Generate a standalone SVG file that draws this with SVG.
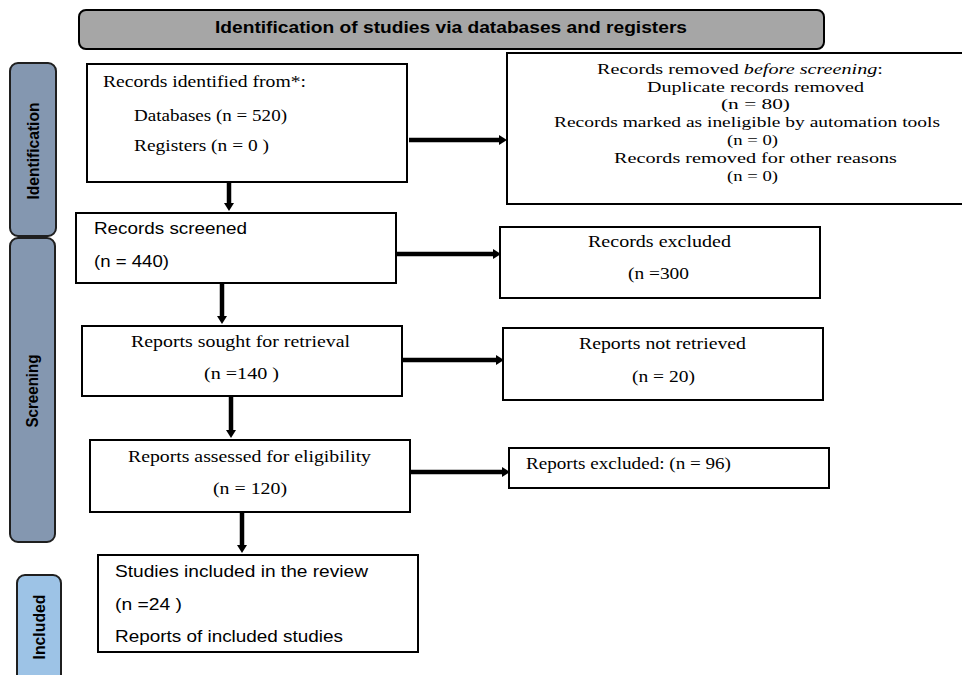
<svg xmlns="http://www.w3.org/2000/svg" width="962" height="675" viewBox="0 0 962 675">
<defs>
<style>
.box{fill:#fff;stroke:#000;stroke-width:2}
.side{stroke:#1f1f1f;stroke-width:2}
.ser{font-family:"Liberation Serif","Times New Roman",serif;font-size:17px;fill:#000}
.sm{font-size:15.5px}
.san{font-family:"Liberation Sans",Arial,sans-serif;font-size:17px;fill:#000}
.lab{font-family:"Liberation Sans",Arial,sans-serif;font-size:16px;font-weight:bold;fill:#000}
.conn line{stroke:#000;stroke-width:4.5;marker-end:url(#ah)}
</style>
<marker id="ah" markerUnits="userSpaceOnUse" markerWidth="8" markerHeight="10" refX="0" refY="5" orient="auto">
<path d="M0,0 L8,5 L0,10 z" fill="#000"/>
</marker>
</defs>
<rect width="962" height="675" fill="#fff"/>

<g id="title">
<rect x="79" y="10" width="745" height="39" rx="7" fill="#a6a6a6" stroke="#000" stroke-width="2"/>
<text x="215" y="33" class="lab" textLength="472" lengthAdjust="spacingAndGlyphs">Identification of studies via databases and registers</text>
</g>

<g id="phase-identification">
<rect x="10" y="63" width="46" height="173" rx="8" fill="#8497b0" class="side"/>
<text class="lab" transform="translate(39,151) rotate(-90)" text-anchor="middle" textLength="97" lengthAdjust="spacingAndGlyphs">Identification</text>
</g>
<g id="phase-screening">
<rect x="10" y="238" width="45" height="304" rx="8" fill="#8497b0" class="side"/>
<text class="lab" transform="translate(38,391) rotate(-90)" text-anchor="middle" textLength="73" lengthAdjust="spacingAndGlyphs">Screening</text>
</g>
<g id="phase-included">
<rect x="17" y="575" width="44" height="110" rx="8" fill="#9dc3e6" class="side"/>
<text class="lab" transform="translate(45,627) rotate(-90)" text-anchor="middle" textLength="65" lengthAdjust="spacingAndGlyphs">Included</text>
</g>

<g id="records-identified">
<rect x="87" y="64" width="320" height="118" class="box"/>
<text x="103" y="87" class="ser" textLength="203" lengthAdjust="spacingAndGlyphs">Records identified from*:</text>
<text x="134" y="121" class="ser" textLength="153" lengthAdjust="spacingAndGlyphs">Databases (n = 520)</text>
<text x="134" y="151" class="ser" textLength="135" lengthAdjust="spacingAndGlyphs">Registers (n = 0 )</text>
</g>

<g id="records-removed">
<rect x="507" y="53" width="460" height="151" class="box"/>
<text x="597" y="74" class="ser sm" textLength="286" lengthAdjust="spacingAndGlyphs">Records removed <tspan font-style="italic">before screening</tspan>:</text>
<text x="647" y="92" class="ser sm" textLength="217" lengthAdjust="spacingAndGlyphs">Duplicate records removed</text>
<text x="721" y="109" class="ser sm" textLength="69" lengthAdjust="spacingAndGlyphs">(n = 80)</text>
<text x="554" y="127" class="ser sm" textLength="386" lengthAdjust="spacingAndGlyphs">Records marked as ineligible by automation tools</text>
<text x="727" y="145" class="ser sm" textLength="51" lengthAdjust="spacingAndGlyphs">(n = 0)</text>
<text x="614" y="163" class="ser sm" textLength="283" lengthAdjust="spacingAndGlyphs">Records removed for other reasons</text>
<text x="727" y="181" class="ser sm" textLength="51" lengthAdjust="spacingAndGlyphs">(n = 0)</text>
</g>

<g id="records-screened">
<rect x="76" y="213" width="320" height="70" class="box"/>
<text x="94" y="234" class="san" textLength="153" lengthAdjust="spacingAndGlyphs">Records screened</text>
<text x="94" y="267" class="san" textLength="75" lengthAdjust="spacingAndGlyphs">(n = 440)</text>
</g>

<g id="records-excluded">
<rect x="500" y="227" width="320" height="71" class="box"/>
<text x="588" y="247" class="ser" textLength="143" lengthAdjust="spacingAndGlyphs">Records excluded</text>
<text x="628" y="279" class="ser" textLength="61" lengthAdjust="spacingAndGlyphs">(n =300</text>
</g>

<g id="reports-sought">
<rect x="82" y="326" width="320" height="70" class="box"/>
<text x="131" y="347" class="ser" textLength="219" lengthAdjust="spacingAndGlyphs">Reports sought for retrieval</text>
<text x="204" y="379" class="ser" textLength="75" lengthAdjust="spacingAndGlyphs">(n =140 )</text>
</g>

<g id="reports-not-retrieved">
<rect x="503" y="328" width="320" height="72" class="box"/>
<text x="579" y="349" class="ser" textLength="167" lengthAdjust="spacingAndGlyphs">Reports not retrieved</text>
<text x="632" y="382" class="ser" textLength="63" lengthAdjust="spacingAndGlyphs">(n = 20)</text>
</g>

<g id="reports-assessed">
<rect x="90" y="440" width="320" height="72" class="box"/>
<text x="128" y="462" class="ser" textLength="243" lengthAdjust="spacingAndGlyphs">Reports assessed for eligibility</text>
<text x="213" y="494" class="ser" textLength="74" lengthAdjust="spacingAndGlyphs">(n = 120)</text>
</g>

<g id="reports-excluded">
<rect x="509" y="448" width="320" height="40" class="box"/>
<text x="526" y="469" class="ser" textLength="205" lengthAdjust="spacingAndGlyphs">Reports excluded: (n = 96)</text>
</g>

<g id="studies-included">
<rect x="98" y="555" width="320" height="97" class="box"/>
<text x="115" y="577" class="san" textLength="253" lengthAdjust="spacingAndGlyphs">Studies included in the review</text>
<text x="115" y="610" class="san" textLength="67" lengthAdjust="spacingAndGlyphs">(n =24 )</text>
<text x="115" y="642" class="san" textLength="228" lengthAdjust="spacingAndGlyphs">Reports of included studies</text>
</g>

<g id="connectors" class="conn">
<line x1="229" y1="183" x2="229" y2="203"/>
<line x1="222" y1="284" x2="222" y2="316"/>
<line x1="231" y1="397" x2="231" y2="430"/>
<line x1="242" y1="513" x2="242" y2="545"/>
<line x1="409" y1="140" x2="499" y2="140"/>
<line x1="397" y1="254" x2="493" y2="254"/>
<line x1="402" y1="360" x2="496" y2="360"/>
<line x1="411" y1="472" x2="502" y2="472"/>
</g>
</svg>
